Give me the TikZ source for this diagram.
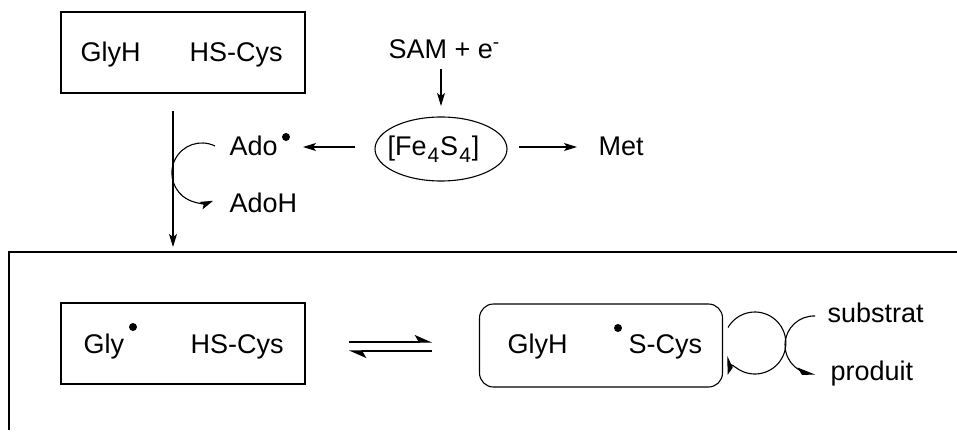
\documentclass[tikz,border=0pt]{standalone}
\usepackage{fontspec}
\setmainfont{Liberation Sans}
\usetikzlibrary{arrows.meta,shapes.geometric}
\newcommand{\lowsub}[1]{\kern1pt\raisebox{-7pt}{\fontsize{21}{22}\selectfont #1}\kern1pt}
\begin{document}
\begin{tikzpicture}[x=1pt,y=-1pt,line width=1.1pt,
  txt/.style={anchor=base west,inner sep=0pt,font=\fontsize{27}{30}\selectfont},
  boxn/.style={draw,rectangle,minimum width=244pt,minimum height=81pt,inner sep=0pt},
  rad/.style={circle,fill,inner sep=0pt,minimum size=8pt},
  arr/.style={-{Stealth[length=13pt,width=8pt,inset=3pt]}},
  harp/.style={-{Stealth[length=16pt,width=14pt,inset=4pt,harpoon]}}]
\useasboundingbox (0,0) rectangle (957,436);
% top
\node[boxn] (topbox) at (183,52.5) {};
\node[txt] (glyh1) at (80,62) {GlyH};
\node[txt] (hscys1) at (189,62) {HS-Cys};
\node[txt] (sam) at (388,59) {SAM + e\raisebox{10pt}{\fontsize{19}{20}\selectfont -}};
\node[draw,ellipse,minimum width=132pt,minimum height=64pt,inner sep=0pt] (fes) at (441,149) {};
\node[txt] (festxt) at (387,155) {[Fe\lowsub{4}S\lowsub{4}]};
\node[txt] (ado) at (229,155) {Ado};
\node[rad] (adodot) at (286,137) {};
\node[txt] (adoh) at (229,212) {AdoH};
\node[txt] (met) at (598,155) {Met};
\coordinate (samarrtop) at (441,69);
\coordinate (samarrbot) at (441,106);
\draw[arr] (samarrtop) -- (samarrbot);
\coordinate (adoarrs) at (355,147);
\coordinate (adoarre) at (303,147);
\draw[arr] (adoarrs) -- (adoarre);
\coordinate (metarrs) at (519,147);
\coordinate (metarre) at (577,147);
\draw[arr] (metarrs) -- (metarre);
\coordinate (vtop) at (173,111);
\coordinate (vbot) at (173,247);
\draw[arr] (vtop) -- (vbot);
\coordinate (curvs) at (215,146);
\draw[arr] (curvs) arc[start angle=-64,end angle=-292,radius=30];
% bracket
\coordinate (brr) at (957,252);
\coordinate (brc) at (9,252);
\coordinate (brb) at (9,430);
\draw (brr) -- (brc) -- (brb);
% bottom
\node[boxn] (glybox) at (183,343.5) {};
\node[txt] (gly) at (83,353) {Gly};
\node[rad] (glydot) at (133,327) {};
\node[txt] (hscys2) at (190,353) {HS-Cys};
\node[draw,rectangle,rounded corners=14pt,minimum width=243pt,minimum height=83pt,inner sep=0pt] (rbox) at (601,345.5) {};
\node[txt] (glyh2) at (507,353) {GlyH};
\node[rad] (sdot) at (618,328) {};
\node[txt] (scys) at (628,353) {S-Cys};
\coordinate (eq1s) at (349,342);
\coordinate (eq1e) at (432,342);
\coordinate (eq2s) at (432,351);
\coordinate (eq2e) at (349,351);
\draw[harp] (eq1s) -- (eq1e);
\draw[harp] (eq2s) -- (eq2e);
\node[txt] (subs) at (827,322) {substrat};
\node[txt] (prod) at (830,380) {produit};
\coordinate (c1s) at (728,327.5);
\coordinate (c2s) at (815,316);
\draw[harp] (c1s) arc[start angle=-150,end angle=155,radius=31];
\draw[harp] (c2s) arc[start angle=-88,end angle=-272,radius=29];
\end{tikzpicture}
\end{document}
